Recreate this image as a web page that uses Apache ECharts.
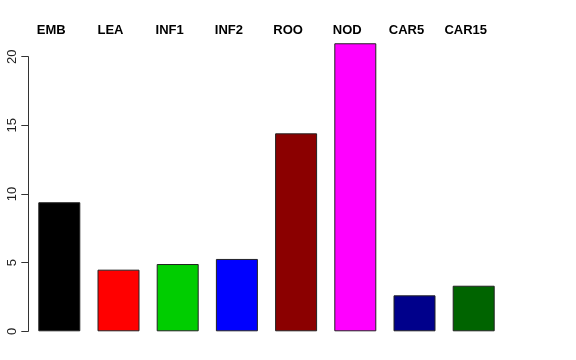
<!DOCTYPE html>
<html><head><meta charset="utf-8">
<script src="https://cdn.jsdelivr.net/npm/echarts@6/dist/echarts.min.js"></script>
<style>html,body{margin:0;padding:0;background:#fff}#c{width:576px;height:360px}</style>
</head><body><div id="c"></div>
<script>
const categories = ['EMB','LEA','INF1','INF2','ROO','NOD','CAR5','CAR15'];
const values = [9.40, 4.49, 4.90, 5.27, 14.42, 20.98, 2.62, 3.32];
const colors = ['#000000','#FF0000','#00CD00','#0000FF','#8B0000','#FF00FF','#00008B','#006400'];
const yTicks = [0, 5, 10, 15, 20];

const chart = echarts.init(document.getElementById('c'), null, {renderer:'canvas'});
const font = 'Liberation Sans, Arial, sans-serif';
chart.setOption({
  animation: false,
  backgroundColor: '#fff',
  grid: [
    {left: 29.7, right: 72.7, top: 43.0, bottom: 28.7},
    {left: 29.7, right: 72.7, top: 56.7, bottom: 28.7}
  ],
  xAxis: [
    {type:'category', gridIndex:0, data: categories, position:'top',
     axisLine:{show:false}, axisTick:{show:false},
     axisLabel:{fontFamily:font, fontWeight:'bold', fontSize:13, color:'#000', margin:6, padding:[0,16,0,0]}},
    {type:'category', gridIndex:1, data: categories, show:false}
  ],
  yAxis: [
    {type:'value', gridIndex:0, min:0, max:21, show:false},
    {type:'value', gridIndex:1, min:yTicks[0], max:yTicks[yTicks.length-1], interval:5, offset:1.4,
     axisLine:{show:true, lineStyle:{color:'#333', width:1}},
     axisTick:{show:true, length:7, lineStyle:{color:'#333'}},
     splitLine:{show:false},
     axisLabel:{rotate:90, fontFamily:font, fontSize:13, color:'#222', margin:9,
       formatter: v => yTicks.includes(v) ? String(v) : ''}}
  ],
  series: [{
    type:'bar', xAxisIndex:0, yAxisIndex:0, barWidth:42,
    data: values.map((v,i)=>({value:v, itemStyle:{color:colors[i]}})),
    itemStyle:{borderColor:'#222', borderWidth:1}
  }]
});
</script></body></html>
